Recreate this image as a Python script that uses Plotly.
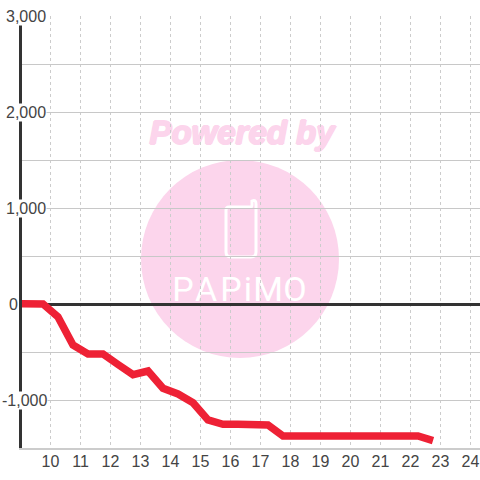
import plotly.graph_objects as go

hours = [8.75, 9.25, 9.75, 10.25, 10.75, 11.25, 11.75, 12.25, 12.75, 13.25, 13.75, 14.25,
         14.75, 15.25, 15.75, 16.25, 16.75, 17.25, 17.75, 18.25, 18.75, 19.25, 19.75,
         20.25, 20.75, 21.25, 21.75, 22.25, 22.75]
values = [5, 3, 0, -135, -427, -520, -520, -630, -736, -698, -878, -937,
          -1028, -1208, -1253, -1253, -1253, -1260, -1375, -1375, -1375, -1375, -1375,
          -1375, -1375, -1375, -1375, -1375, -1424]
x_ticks = list(range(10, 25))
y_grid = [-1500, -1000, -500, 0, 500, 1000, 1500, 2000, 2500, 3000]
y_labelled = [3000, 2000, 1000, 0, -1000]
y_labels = ["3,000", "2,000", "1,000", "0", "-1,000"]
y_label_left = [5, 5, 5, 7.5, 1]
logo_letters = ["P", "A", "P", "i", "M", "O"]
logo_x = [183, 206, 231, 248, 268, 295]

W, L, T, B = 480, 22, 16, 32
PINK = "#FCD5EC"
fig = go.Figure()

# Watermark subplot: sits beneath the real axes and grid; its axes run in page pixels
fig.add_trace(go.Scatter(x=[242], y=[136], mode="text", text=["Powered by"], xaxis="x", yaxis="y",
                         textfont=dict(family="Liberation Sans", size=33, color=PINK, weight="bold", style="italic",
                                       shadow="1px 0 0 #FCD5EC, -1px 0 0 #FCD5EC, 0 1px 0 #FCD5EC, 0 -1px 0 #FCD5EC"),
                         hoverinfo="skip", showlegend=False))
fig.add_trace(go.Scatter(x=logo_x, y=[292] * len(logo_x), mode="text", text=logo_letters, xaxis="x", yaxis="y",
                         textfont=dict(family="Roboto", size=34, color="white", weight=400),
                         hoverinfo="skip", showlegend=False))
fig.add_shape(type="circle", xref="x", yref="y", x0=141, x1=339, y0=160, y1=358,
              fillcolor=PINK, line_width=0, layer="below")
fig.add_shape(type="path", xref="x", yref="y", layer="below", fillcolor="rgba(0,0,0,0)",
              line=dict(color="white", width=3),
              path="M 229 207 L 250 207 Q 252 207 252 205 L 252 201 Q 256 199 256 204 L 256 252 "
                   "Q 256 257 251 257 L 231 257 Q 226 257 226 252 L 226 210 Q 226 207 229 207 Z")

# Real chart
fig.add_trace(go.Scatter(x=hours, y=values, mode="lines", xaxis="x2", yaxis="y2", cliponaxis=False,
                         line=dict(color="#EE2135", width=7.5, shape="linear"),
                         hoverinfo="skip", showlegend=False))

for val, lab, left in zip(y_labelled, y_labels, y_label_left):
    fig.add_annotation(xref="paper", yref="y2", x=(left - L) / (W - L), y=val, text=lab, showarrow=False,
                       xanchor="left", yanchor="middle", bgcolor="white", borderpad=0,
                       font=dict(family="Liberation Sans", size=16, color="#444444"))

fig.update_layout(
    width=W, height=W, margin=dict(l=L, r=0, t=T, b=B),
    paper_bgcolor="white", plot_bgcolor="rgba(0,0,0,0)", showlegend=False,
    xaxis=dict(domain=[0, 1], range=[L, W], visible=False, fixedrange=True),
    yaxis=dict(domain=[0, 1], range=[W - B, T], visible=False, fixedrange=True),
    xaxis2=dict(domain=[0, 1], anchor="y2", range=[10 - 28.5 / 30, 10 + 429.5 / 30],
                tickvals=x_ticks, showgrid=True, gridcolor="#cccccc", gridwidth=1, griddash="dot",
                showline=True, linecolor="#cccccc", linewidth=1.5, ticks="", zeroline=False,
                tickfont=dict(family="Liberation Sans", size=16, color="#444444"), ticklabelstandoff=-2),
    yaxis2=dict(domain=[0, 1], anchor="x2", range=[-1500, 3000], tickvals=y_grid, showticklabels=False,
                showgrid=True, gridcolor="#c8c8c8", gridwidth=1.2, ticks="",
                zeroline=True, zerolinecolor="#333333", zerolinewidth=3,
                showline=True, linecolor="#333333", linewidth=3),
)
fig.write_html("out.html", config={"displayModeBar": False},
               post_script="document.body.style.margin='0';document.documentElement.style.overflow='hidden';")
